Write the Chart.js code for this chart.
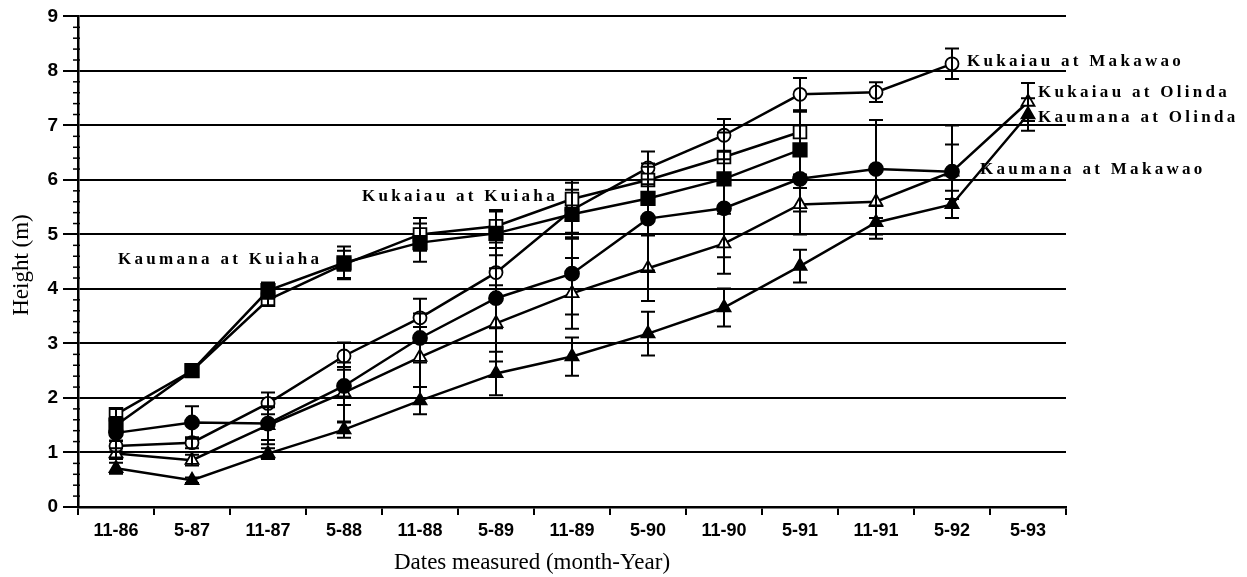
<!DOCTYPE html>
<html>
<head>
<meta charset="utf-8">
<script src="https://cdn.jsdelivr.net/npm/chart.js@4.4.1/dist/chart.umd.min.js"></script>
<style>
    html, body { margin: 0; padding: 0; background: #fff; }
    #wrap { width: 1247px; height: 577px; }
</style>
</head>
<body>
<div id="wrap"><canvas id="chart"></canvas></div>
<script>
// month-year of each measurement
const dates = ["11-86", "5-87", "11-87", "5-88", "11-88", "5-89", "11-89", "5-90", "11-90", "5-91", "11-91", "5-92", "5-93"];

// mean heights (m)
const kaumanaKuiaha  = [1.50, 2.50, 3.97, 4.48, 4.85, 5.02, 5.37, 5.66, 6.02, 6.55];
const kukaiauKuiaha  = [1.70, 2.50, 3.80, 4.45, 5.00, 5.15, 5.65, 6.00, 6.42, 6.88];
const kukaiauMakawao = [1.12, 1.18, 1.90, 2.77, 3.47, 4.30, 5.45, 6.22, 6.82, 7.57, 7.61, 8.13];
const kaumanaMakawao = [1.36, 1.55, 1.53, 2.22, 3.10, 3.83, 4.28, 5.29, 5.48, 6.02, 6.20, 6.15];
const kukaiauOlinda  = [0.98, 0.86, 1.50, 2.10, 2.75, 3.37, 3.92, 4.38, 4.83, 5.55, 5.60, 6.15, 7.43];
const kaumanaOlinda  = [0.71, 0.49, 0.98, 1.42, 1.95, 2.45, 2.76, 3.18, 3.66, 4.42, 5.22, 5.55, 7.20];

// error bar half-lengths (m)
const errKaumanaKuiaha  = [0.15, 0.05, 0.15, 0.30, 0.35, 0.40, 0.45, 0.35, 0.50, 0.70];
const errKukaiauKuiaha  = [0.10, 0.05, 0.10, 0.25, 0.30, 0.30, 0.35, 0.30, 0.45, 0.40];
const errKukaiauMakawao = [0.10, 0.10, 0.20, 0.25, 0.35, 0.45, 0.50, 0.30, 0.30, 0.30, 0.18, 0.28];
const errKaumanaMakawao = [0.15, 0.30, 0.30, 0.35, 0.45, 0.55, 0.75, 0.95, 0.90, 0.60, 0.90, 0.85];
const errKukaiauOlinda  = [0.10, 0.10, 0.35, 0.55, 0.55, 0.70, 0.65, 0.60, 0.55, 0.55, 0.60, 0.50, 0.35];
const errKaumanaOlinda  = [0.10, 0.05, 0.10, 0.15, 0.25, 0.40, 0.35, 0.40, 0.35, 0.30, 0.30, 0.25, 0.30];

const yTicks = [0, 1, 2, 3, 4, 5, 6, 7, 8, 9];

function series(label, data, style, radius, filled) {
    return {
        label: label,
        data: data,
        borderColor: '#000',
        borderWidth: 2.5,
        tension: 0,
        pointStyle: style,
        pointRadius: radius,
        pointBackgroundColor: filled ? '#000' : '#fff',
        pointBorderColor: '#000',
        pointBorderWidth: 1.8,
        fill: false
    };
}

const errors = [errKaumanaKuiaha, errKukaiauKuiaha, errKukaiauMakawao, errKaumanaMakawao, errKukaiauOlinda, errKaumanaOlinda];

// draw the vertical error bars with caps
const errorBars = {
    id: 'errorBars',
    afterDatasetsDraw(chart) {
        const {ctx, scales: {x, y}} = chart;
        ctx.save();
        ctx.strokeStyle = '#000';
        ctx.lineWidth = 2;
        chart.data.datasets.forEach((ds, i) => {
            errors[i].forEach((e, j) => {
                const px = x.getPixelForValue(j);
                const top = y.getPixelForValue(ds.data[j] + e);
                const bot = y.getPixelForValue(ds.data[j] - e);
                ctx.beginPath();
                ctx.moveTo(px, top); ctx.lineTo(px, bot);
                ctx.moveTo(px - 7, top); ctx.lineTo(px + 7, top);
                ctx.moveTo(px - 7, bot); ctx.lineTo(px + 7, bot);
                ctx.stroke();
            });
        });
        ctx.restore();
    }
};

// minor ticks on the y axis, series labels and axis titles
const decorations = {
    id: 'decorations',
    afterDraw(chart) {
        const {ctx, chartArea, scales: {y}} = chart;
        ctx.save();
        ctx.strokeStyle = '#000';
        ctx.lineWidth = 1.5;
        for (let k = 1; k < 45; k++) {
            if (k % 5 === 0) continue;
            const py = y.getPixelForValue(k / 5);
            ctx.beginPath();
            ctx.moveTo(chartArea.left - 5, py);
            ctx.lineTo(chartArea.left + 2, py);
            ctx.stroke();
        }

        ctx.fillStyle = '#000';
        ctx.font = 'bold 17px "Liberation Serif"';
        ctx.letterSpacing = '3.3px';
        ctx.textBaseline = 'middle';
        ctx.textAlign = 'left';
        ctx.fillText('Kaumana at Kuiaha', 118, 260);
        ctx.fillText('Kukaiau at Kuiaha', 362, 197);
        ctx.fillText('Kukaiau at Makawao', 967, 62);
        ctx.fillText('Kukaiau at Olinda', 1038, 93);
        ctx.fillText('Kaumana at Olinda', 1038, 118);
        ctx.fillText('Kaumana at Makawao', 980, 170);

        ctx.letterSpacing = '0px';
        ctx.font = '23px "Liberation Serif"';
        ctx.textAlign = 'center';
        ctx.fillText('Dates measured (month-Year)', 532, 563);
        ctx.translate(22, 265);
        ctx.rotate(-Math.PI / 2);
        ctx.fillText('Height (m)', 0, 0);
        ctx.restore();
    }
};

new Chart(document.getElementById('chart'), {
    type: 'line',
    data: {
        labels: dates,
        datasets: [
            series('Kaumana at Kuiaha', kaumanaKuiaha, 'rect', 9.5, true),
            series('Kukaiau at Kuiaha', kukaiauKuiaha, 'rect', 9, false),
            series('Kukaiau at Makawao', kukaiauMakawao, 'circle', 6.5, false),
            series('Kaumana at Makawao', kaumanaMakawao, 'circle', 7, true),
            series('Kukaiau at Olinda', kukaiauOlinda, 'triangle', 7.5, false),
            series('Kaumana at Olinda', kaumanaOlinda, 'triangle', 7.5, true)
        ]
    },
    options: {
        responsive: true,
        maintainAspectRatio: false,
        animation: false,
        layout: { padding: { top: 14, right: 181, left: 0, bottom: 0 } },
        plugins: {
            legend: { display: false },
            tooltip: { enabled: false }
        },
        scales: {
            x: {
                type: 'category',
                offset: true,
                grid: { offset: true, drawOnChartArea: false, drawTicks: true, tickLength: 8, color: '#000', lineWidth: 2 },
                border: { display: true, color: '#000', width: 2.5 },
                ticks: { color: '#000', font: { family: '"Liberation Sans"', size: 18, weight: 'bold' }, padding: 5, maxRotation: 0 },
                afterFit(scale) { scale.height = 70; }
            },
            y: {
                min: 0,
                max: 9,
                afterBuildTicks(scale) { scale.ticks = yTicks.map(v => ({value: v})); },
                grid: { color: '#000', lineWidth: 2, tickLength: 15 },
                border: { display: true, color: '#000', width: 2.5 },
                ticks: { color: '#000', font: { family: '"Liberation Sans"', size: 19, weight: 'bold' }, padding: 5 },
                afterFit(scale) { scale.width = 78; }
            }
        }
    },
    plugins: [errorBars, decorations]
});
</script>
</body>
</html>
